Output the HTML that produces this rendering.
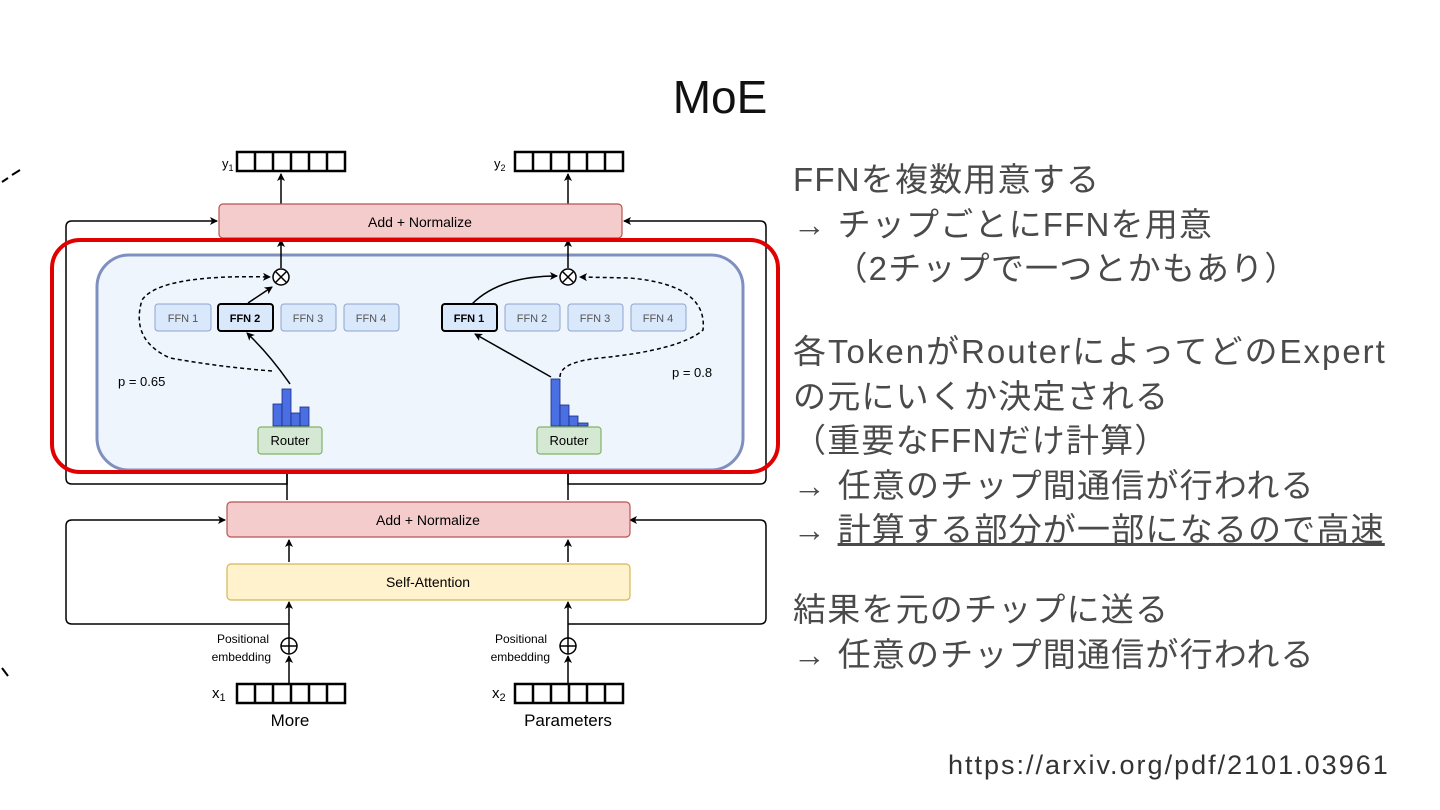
<!DOCTYPE html>
<html><head><meta charset="utf-8"><style>
html,body{margin:0;padding:0;background:#fff;}
body{width:1440px;height:810px;position:relative;overflow:hidden;font-family:"Liberation Sans","Noto Sans CJK JP",sans-serif;}
.t{position:absolute;left:793px;color:#4a4a4a;font-size:33px;letter-spacing:1.2px;line-height:44.5px;white-space:nowrap;font-family:"Liberation Sans","Noto Sans CJK JP",sans-serif;}
</style></head><body>
<div style="position:absolute;left:0;width:1440px;top:70px;text-align:center;font-size:46px;color:#111;">MoE</div>
<div class="t" style="top:158px;">FFNを複数用意する<br>→ チップごとにFFNを用意<br>&nbsp;&nbsp;&nbsp;&nbsp;（2チップで一つとかもあり）</div>
<div class="t" style="top:330px;"><span style="letter-spacing:2px">各TokenがRouterによってどのExpert</span><br>の元にいくか決定される<br>（重要なFFNだけ計算）<br>→ 任意のチップ間通信が行われる<br>→ <span style="text-decoration:underline;">計算する部分が一部になるので高速</span></div>
<div class="t" style="top:588px;">結果を元のチップに送る<br>→ 任意のチップ間通信が行われる</div>
<div style="position:absolute;left:948px;top:750px;font-size:27px;letter-spacing:2px;color:#333;">https://arxiv.org/pdf/2101.03961</div>
<svg width="790" height="740" style="position:absolute;left:0;top:0" font-family="Liberation Sans, sans-serif">
<defs><marker id="a" markerWidth="8" markerHeight="8" refX="7" refY="4" orient="auto" markerUnits="userSpaceOnUse"><path d="M0,0 L8,4 L0,8 L2,4z" fill="#000"/></marker></defs>
<path d="M2,182 L8,178 M12,175 L20,170" stroke="#000" stroke-width="2"/>
<path d="M2,668 L8,676" stroke="#000" stroke-width="2"/>
<text x="222" y="168" font-size="13">y<tspan font-size="9" dy="3">1</tspan></text>
<g fill="none" stroke="#000" stroke-width="2.5"><rect x="237" y="152" width="108" height="19"/><path d="M255,152v19M273,152v19M291,152v19M309,152v19M327,152v19"/></g>
<text x="494" y="168" font-size="13">y<tspan font-size="9" dy="3">2</tspan></text>
<g fill="none" stroke="#000" stroke-width="2.5"><rect x="515" y="152" width="108" height="19"/><path d="M533,152v19M551,152v19M569,152v19M587,152v19M605,152v19"/></g>
<g stroke="#000" stroke-width="1.5" fill="none">
<path d="M281,204V174" marker-end="url(#a)"/><path d="M568,204V174" marker-end="url(#a)"/>
<path d="M287,474 V484 H72 Q66,484 66,478 V227 Q66,221 72,221 H217" marker-end="url(#a)"/>
<path d="M568,474 V484 H760 Q766,484 766,478 V227 Q766,221 760,221 H624" marker-end="url(#a)"/>
<path d="M287,500 V462" marker-end="url(#a)"/><path d="M568,500 V462" marker-end="url(#a)"/>
<path d="M289,624 H72 Q66,624 66,618 V526 Q66,520 72,520 H225" marker-end="url(#a)"/>
<path d="M568,624 H760 Q766,624 766,618 V526 Q766,520 760,520 H630" marker-end="url(#a)"/>
<path d="M289,562 V540" marker-end="url(#a)"/><path d="M568,562 V540" marker-end="url(#a)"/>
<path d="M289,638 V602" marker-end="url(#a)"/><path d="M568,638 V602" marker-end="url(#a)"/>
<path d="M289,684 V656" marker-end="url(#a)"/><path d="M568,684 V656" marker-end="url(#a)"/>
</g>
<rect x="219" y="204" width="403" height="34" rx="4" fill="#f4cccc" stroke="#b85450" stroke-width="1.2"/>
<text x="420" y="227" font-size="14" text-anchor="middle">Add + Normalize</text>
<rect x="97" y="255" width="646" height="215" rx="32" fill="#eef5fd" stroke="#7f8fbf" stroke-width="3"/>
<g stroke="#000" stroke-width="1.5" fill="none">
<path d="M281,268 V240" marker-end="url(#a)"/><path d="M568,268 V240" marker-end="url(#a)"/>
<circle cx="281" cy="277" r="8" fill="#fff"/><path d="M275,271l12,12M287,271l-12,12"/>
<circle cx="568" cy="277" r="8" fill="#fff"/><path d="M562,271l12,12M574,271l-12,12"/>
<path d="M248,303 L272,287" marker-end="url(#a)"/>
<path d="M290,384 Q270,355 247,333" marker-end="url(#a)"/>
<path d="M272,371 Q220,367 170,358 Q130,340 142,300 Q160,274 270,277" stroke-dasharray="4,3" marker-end="url(#a)"/>
<path d="M472,304 Q500,276 557,276" marker-end="url(#a)"/>
<path d="M551,377 L475,334" marker-end="url(#a)"/>
<path d="M560,377 Q560,362 600,358 Q680,350 703,330 Q708,285 630,278 L580,277" stroke-dasharray="4,3" marker-end="url(#a)"/>
</g>
<g font-size="11" text-anchor="middle" fill="#555">
<rect x="155" y="304" width="56" height="27" rx="3" fill="#dae8fc" stroke="#8fa3cf"/><text x="183" y="322">FFN 1</text>
<rect x="218" y="304" width="55" height="27" rx="3" fill="#dae8fc" stroke="#000" stroke-width="2"/><text x="245" y="322" font-weight="bold" fill="#000">FFN 2</text>
<rect x="281" y="304" width="55" height="27" rx="3" fill="#dae8fc" stroke="#8fa3cf"/><text x="308" y="322">FFN 3</text>
<rect x="344" y="304" width="55" height="27" rx="3" fill="#dae8fc" stroke="#8fa3cf"/><text x="371" y="322">FFN 4</text>
<rect x="442" y="304" width="55" height="27" rx="3" fill="#dae8fc" stroke="#000" stroke-width="2"/><text x="469" y="322" font-weight="bold" fill="#000">FFN 1</text>
<rect x="505" y="304" width="55" height="27" rx="3" fill="#dae8fc" stroke="#8fa3cf"/><text x="532" y="322">FFN 2</text>
<rect x="568" y="304" width="55" height="27" rx="3" fill="#dae8fc" stroke="#8fa3cf"/><text x="595" y="322">FFN 3</text>
<rect x="631" y="304" width="55" height="27" rx="3" fill="#dae8fc" stroke="#8fa3cf"/><text x="658" y="322">FFN 4</text>
</g>
<text x="118" y="386" font-size="13">p = 0.65</text>
<text x="672" y="377" font-size="13">p = 0.8</text>
<g fill="#4a6fe3" stroke="#1a2a80" stroke-width="0.8">
<rect x="273" y="404" width="9" height="22"/><rect x="282" y="389" width="9" height="37"/><rect x="291" y="413" width="9" height="13"/><rect x="300" y="407" width="9" height="19"/>
<rect x="551" y="379" width="9" height="47"/><rect x="560" y="405" width="9" height="21"/><rect x="569" y="416" width="9" height="10"/><rect x="578" y="423" width="10" height="3"/>
</g>
<rect x="258" y="427" width="64" height="27" rx="3" fill="#d5e8d4" stroke="#82b366" stroke-width="1.2"/><text x="290" y="445" font-size="13" text-anchor="middle">Router</text>
<rect x="537" y="427" width="64" height="27" rx="3" fill="#d5e8d4" stroke="#82b366" stroke-width="1.2"/><text x="569" y="445" font-size="13" text-anchor="middle">Router</text>
<rect x="52" y="240" width="726" height="232" rx="28" fill="none" stroke="#e00000" stroke-width="4"/>
<rect x="227" y="502" width="403" height="35" rx="4" fill="#f4cccc" stroke="#b85450" stroke-width="1.2"/>
<text x="428" y="525" font-size="14" text-anchor="middle">Add + Normalize</text>
<rect x="227" y="564" width="403" height="36" rx="4" fill="#fff2cc" stroke="#d6b656" stroke-width="1.2"/>
<text x="428" y="587" font-size="14" text-anchor="middle">Self-Attention</text>
<g font-size="12" text-anchor="end"><text x="269" y="643">Positional</text><text x="271" y="661">embedding</text>
<text x="547" y="643">Positional</text><text x="550" y="661">embedding</text></g>
<g stroke="#000" stroke-width="1.5" fill="none"><circle cx="289" cy="646" r="8"/><path d="M281,646h16M289,638v16"/><circle cx="568" cy="646" r="8"/><path d="M560,646h16M568,638v16"/></g>
<text x="212" y="698" font-size="15">x<tspan font-size="11" dy="3">1</tspan></text>
<g fill="none" stroke="#000" stroke-width="2.5"><rect x="237" y="684" width="108" height="19"/><path d="M255,684v19M273,684v19M291,684v19M309,684v19M327,684v19"/></g>
<text x="492" y="698" font-size="15">x<tspan font-size="11" dy="3">2</tspan></text>
<g fill="none" stroke="#000" stroke-width="2.5"><rect x="515" y="684" width="108" height="19"/><path d="M533,684v19M551,684v19M569,684v19M587,684v19M605,684v19"/></g>
<text x="290" y="726" font-size="17" text-anchor="middle">More</text>
<text x="568" y="726" font-size="17" text-anchor="middle">Parameters</text>
</svg>
</body></html>
